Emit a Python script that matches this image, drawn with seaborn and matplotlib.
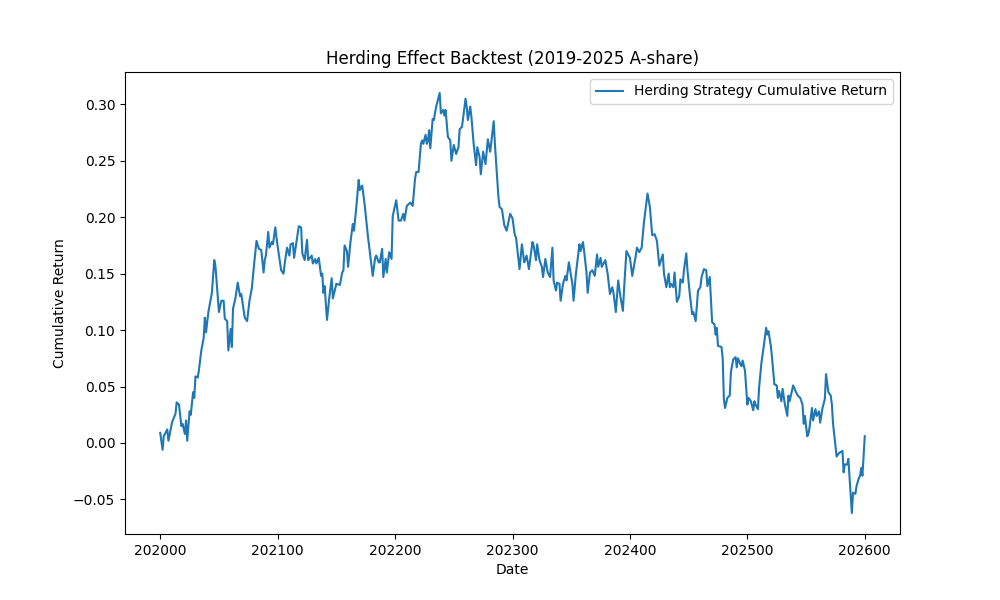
import matplotlib
matplotlib.use("Agg")
import matplotlib.pyplot as plt
import seaborn as sns
import pandas as pd

dates = [
    202000, 202002, 202003, 202006, 202007, 202010, 202013, 202014, 202016, 202018,
    202019, 202021, 202022, 202023, 202025, 202026, 202028, 202029, 202030, 202032,
    202033, 202035, 202037, 202038, 202039, 202041, 202044, 202046, 202047, 202050,
    202052, 202054, 202055, 202057, 202058, 202060, 202061, 202062, 202064, 202066,
    202068, 202069, 202072, 202074, 202076, 202078, 202080, 202082, 202084, 202086,
    202088, 202089, 202090, 202092, 202093, 202095, 202096, 202098, 202099, 202101,
    202103, 202105, 202106, 202108, 202110, 202111, 202113, 202114, 202116, 202118,
    202120, 202121, 202123, 202125, 202126, 202129, 202130, 202132, 202133, 202135,
    202137, 202138, 202139, 202140, 202142, 202144, 202146, 202147, 202150, 202153,
    202155, 202156, 202157, 202159, 202160, 202162, 202164, 202165, 202167, 202169,
    202170, 202172, 202174, 202177, 202180, 202181, 202183, 202184, 202186, 202187,
    202189, 202190, 202192, 202193, 202195, 202197, 202198, 202201, 202203, 202205,
    202207, 202208, 202210, 202213, 202215, 202217, 202218, 202220, 202222, 202223,
    202224, 202226, 202227, 202228, 202229, 202230, 202232, 202233, 202235, 202238,
    202239, 202241, 202242, 202243, 202245, 202247, 202248, 202250, 202252, 202254,
    202255, 202257, 202260, 202261, 202262, 202264, 202265, 202267, 202269, 202270,
    202272, 202273, 202275, 202277, 202279, 202281, 202284, 202285, 202288, 202289,
    202291, 202293, 202295, 202298, 202300, 202302, 202303, 202306, 202308, 202310,
    202312, 202314, 202317, 202318, 202320, 202321, 202323, 202325, 202326, 202328,
    202330, 202332, 202334, 202335, 202337, 202338, 202340, 202341, 202343, 202345,
    202346, 202348, 202351, 202352, 202354, 202357, 202358, 202360, 202361, 202363,
    202364, 202366, 202368, 202370, 202372, 202373, 202375, 202376, 202379, 202381,
    202383, 202385, 202386, 202388, 202390, 202392, 202394, 202395, 202397, 202400,
    202402, 202405, 202406, 202408, 202410, 202412, 202415, 202417, 202419, 202421,
    202423, 202425, 202428, 202429, 202431, 202433, 202434, 202435, 202437, 202438,
    202440, 202442, 202443, 202445, 202446, 202448, 202449, 202451, 202453, 202454,
    202456, 202458, 202460, 202461, 202463, 202465, 202466, 202468, 202470, 202472,
    202473, 202474, 202475, 202478, 202479, 202480, 202481, 202483, 202485, 202486,
    202488, 202490, 202491, 202492, 202494, 202495, 202496, 202498, 202500, 202501,
    202503, 202505, 202506, 202507, 202509, 202510, 202512, 202514, 202516, 202517,
    202518, 202520, 202521, 202523, 202525, 202526, 202527, 202529, 202530, 202532,
    202534, 202535, 202536, 202539, 202541, 202543, 202545, 202547, 202548, 202549,
    202551, 202552, 202553, 202555, 202556, 202558, 202559, 202561, 202562, 202564,
    202566, 202567, 202569, 202571, 202572, 202573, 202576, 202578, 202581, 202582,
    202583, 202585, 202586, 202588, 202589, 202590, 202592, 202593, 202595, 202596,
    202597, 202598, 202600,
]

cum_return = [
    0.009, -0.006, 0.006, 0.012, 0.002, 0.018, 0.026, 0.036, 0.034, 0.015,
    0.017, 0.008, 0.020, 0.002, 0.028, 0.025, 0.045, 0.040, 0.059, 0.058,
    0.065, 0.082, 0.093, 0.111, 0.098, 0.116, 0.133, 0.162, 0.157, 0.116,
    0.126, 0.126, 0.110, 0.108, 0.082, 0.101, 0.085, 0.119, 0.128, 0.142,
    0.130, 0.132, 0.111, 0.108, 0.126, 0.137, 0.159, 0.179, 0.172, 0.171,
    0.151, 0.162, 0.166, 0.187, 0.173, 0.178, 0.176, 0.191, 0.182, 0.167,
    0.153, 0.150, 0.159, 0.173, 0.166, 0.176, 0.177, 0.164, 0.178, 0.192,
    0.191, 0.168, 0.162, 0.180, 0.162, 0.166, 0.159, 0.163, 0.159, 0.164,
    0.148, 0.150, 0.133, 0.139, 0.109, 0.129, 0.146, 0.128, 0.141, 0.140,
    0.151, 0.153, 0.175, 0.170, 0.156, 0.178, 0.194, 0.188, 0.209, 0.233,
    0.224, 0.228, 0.212, 0.182, 0.156, 0.148, 0.164, 0.166, 0.160, 0.160,
    0.172, 0.147, 0.163, 0.151, 0.169, 0.163, 0.201, 0.215, 0.197, 0.197,
    0.203, 0.197, 0.210, 0.213, 0.210, 0.234, 0.240, 0.240, 0.265, 0.268,
    0.265, 0.273, 0.265, 0.268, 0.277, 0.261, 0.287, 0.286, 0.298, 0.310,
    0.292, 0.295, 0.290, 0.295, 0.271, 0.268, 0.250, 0.264, 0.256, 0.262,
    0.278, 0.280, 0.305, 0.298, 0.286, 0.298, 0.289, 0.264, 0.246, 0.262,
    0.253, 0.238, 0.258, 0.247, 0.269, 0.258, 0.285, 0.265, 0.218, 0.209,
    0.207, 0.193, 0.188, 0.203, 0.199, 0.184, 0.182, 0.154, 0.176, 0.160,
    0.166, 0.154, 0.178, 0.175, 0.162, 0.176, 0.162, 0.156, 0.147, 0.163,
    0.151, 0.147, 0.173, 0.144, 0.135, 0.142, 0.141, 0.126, 0.141, 0.148,
    0.144, 0.160, 0.141, 0.126, 0.150, 0.176, 0.170, 0.178, 0.170, 0.151,
    0.133, 0.151, 0.153, 0.148, 0.167, 0.156, 0.164, 0.156, 0.162, 0.150,
    0.132, 0.138, 0.133, 0.116, 0.144, 0.129, 0.117, 0.136, 0.170, 0.164,
    0.148, 0.166, 0.173, 0.169, 0.173, 0.196, 0.221, 0.209, 0.184, 0.185,
    0.179, 0.157, 0.167, 0.150, 0.138, 0.150, 0.138, 0.141, 0.138, 0.151,
    0.125, 0.130, 0.145, 0.142, 0.153, 0.168, 0.153, 0.132, 0.114, 0.116,
    0.108, 0.135, 0.138, 0.147, 0.154, 0.153, 0.139, 0.147, 0.107, 0.105,
    0.096, 0.102, 0.086, 0.085, 0.075, 0.039, 0.031, 0.040, 0.042, 0.063,
    0.074, 0.076, 0.067, 0.075, 0.070, 0.068, 0.073, 0.064, 0.034, 0.040,
    0.037, 0.029, 0.037, 0.034, 0.030, 0.049, 0.071, 0.086, 0.102, 0.096,
    0.099, 0.086, 0.076, 0.052, 0.051, 0.040, 0.046, 0.037, 0.048, 0.034,
    0.024, 0.042, 0.037, 0.051, 0.046, 0.042, 0.040, 0.034, 0.017, 0.024,
    0.006, 0.008, 0.014, 0.031, 0.020, 0.030, 0.024, 0.028, 0.018, 0.031,
    0.039, 0.061, 0.045, 0.042, 0.034, 0.017, -0.012, -0.009, -0.007, -0.026,
    -0.019, -0.019, -0.014, -0.046, -0.062, -0.044, -0.045, -0.038, -0.031, -0.029,
    -0.022, -0.029, 0.006,
]

series_label = "Herding Strategy Cumulative Return"

df = pd.DataFrame({"Date": dates, "Cumulative Return": cum_return})

fig, ax = plt.subplots(figsize=(10, 6), dpi=100)
sns.lineplot(data=df, x="Date", y="Cumulative Return", ax=ax,
             color="#1f77b4", linewidth=1.5, label=series_label)
ax.set_title("Herding Effect Backtest (2019-2025 A-share)")
ax.set_xlabel("Date")
ax.set_ylabel("Cumulative Return")
ax.ticklabel_format(axis="x", useOffset=False, style="plain")
ax.legend(loc="upper right")
fig.savefig("out.png", dpi=100)
